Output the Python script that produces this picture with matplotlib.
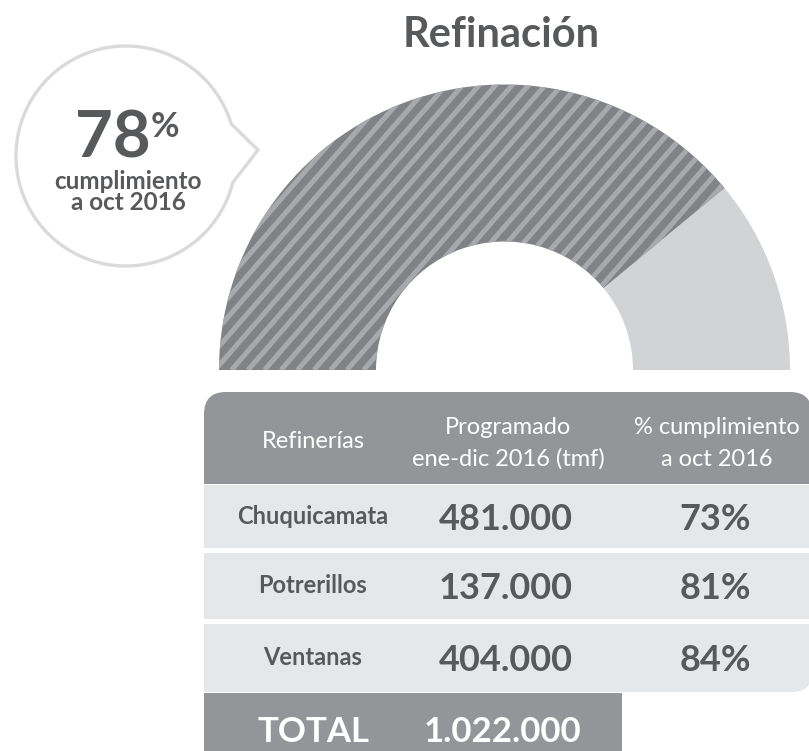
import numpy as np
import matplotlib.pyplot as plt
from matplotlib.patches import Wedge, Rectangle, FancyBboxPatch, Polygon

# data
titulo = "Refinación"
refinerias = ["Chuquicamata", "Potrerillos", "Ventanas"]
programado = [481000, 137000, 404000]      # tmf ene-dic 2016
cumplimiento = [73, 81, 84]                # % a oct 2016
cumplimiento_total = 78                    # %
encabezados = ["Refinerías", "Programado\nene-dic 2016 (tmf)", "% cumplimiento\na oct 2016"]

total = sum(programado)

def miles(v):
    return f"{v:,}".replace(",", ".")

plt.rcParams['font.family'] = ['Lato', 'DejaVu Sans']

DARK = '#58595b'
HEAD = '#939598'
ROW = '#e6e7e8'

fig = plt.figure(figsize=(8.09, 7.51), dpi=100)
ax = fig.add_axes([0, 0, 1, 1])
ax.set_xlim(0, 809)
ax.set_ylim(751, 0)
ax.axis('off')

# title
ax.text(501, 47, titulo, ha='center', va='baseline', fontsize=30, fontweight='bold', color=DARK)

# ---- gauge (half donut) ----
cx, cy = 504.5, 370
r_out, r_in = 285.5, 128.5
ang = 180 * cumplimiento_total / 100.0
# y axis is inverted -> upper half is 180..360 in data angles
ax.add_patch(Wedge((cx, cy), r_out, 180 + ang, 360, width=r_out - r_in,
                   facecolor='#d1d3d4', edgecolor='none', lw=0))
filled = Wedge((cx, cy), r_out, 180, 180 + ang, width=r_out - r_in,
               facecolor='#808285', edgecolor='none', lw=0)
ax.add_patch(filled)

# diagonal stripes clipped to the filled part
th = np.deg2rad(49)
step = 16.5
for c in np.arange(cx - r_out - 400, cx + r_out + 20, step):
    s = np.array([0, 600])
    ln, = ax.plot(c + s * np.cos(th), cy - s * np.sin(th), color='#a7a9ac', lw=3.6,
                  solid_capstyle='butt')
    ln.set_clip_path(filled)

# ---- speech bubble ----
bx, by, br = 126, 156, 110
a1 = np.deg2rad(17)     # upper attach (screen)
a2 = np.deg2rad(-14)    # lower attach
t = np.linspace(a1, a2 + 2 * np.pi, 200)
xs = bx + br * np.cos(t)
ys = by - br * np.sin(t)
pts = np.column_stack([xs, ys])
pts = np.vstack([pts, [[258, 150]]])
ax.add_patch(Polygon(pts, closed=True, facecolor='white', edgecolor='#d9dadb', lw=2.4, joinstyle='miter'))

ax.text(113, 158, str(cumplimiento_total), ha='center', va='baseline', fontsize=47,
        fontweight='bold', color=DARK)
ax.text(151, 137, "%", ha='left', va='baseline', fontsize=25, fontweight='bold', color=DARK)
ax.text(128, 189, "cumplimiento", ha='center', va='baseline', fontsize=17.5, fontweight='bold', color=DARK)
ax.text(128, 210, "a oct 2016", ha='center', va='baseline', fontsize=17.5, fontweight='bold', color=DARK)

# ---- table ----
x0, x1 = 204, 812
col_x = [313, 506, 715]

# header
ax.add_patch(FancyBboxPatch((x0, 392), x1 - x0, 92, boxstyle="round,pad=0,rounding_size=22",
                            facecolor=HEAD, edgecolor='none'))
ax.add_patch(Rectangle((x0, 440), x1 - x0, 44, facecolor=HEAD, edgecolor='none'))
ax.text(col_x[0], 448, encabezados[0], ha='center', va='baseline', fontsize=17, color='white')
for i in (1, 2):
    l1, l2 = encabezados[i].split("\n")
    ax.text(col_x[i] + 2, 434, l1, ha='center', va='baseline', fontsize=17, color='white')
    ax.text(col_x[i] + 2, 466, l2, ha='center', va='baseline', fontsize=17, color='white')

# rows
row_top = [485, 553, 624]
row_bot = [548, 619, 692]
for k, name in enumerate(refinerias):
    h = row_bot[k] - row_top[k]
    if k == len(refinerias) - 1:
        ax.add_patch(FancyBboxPatch((x0, row_top[k]), x1 - x0, h,
                                    boxstyle="round,pad=0,rounding_size=20",
                                    facecolor=ROW, edgecolor='none'))
        ax.add_patch(Rectangle((x0, row_top[k]), x1 - x0, h / 2, facecolor=ROW, edgecolor='none'))
        ax.add_patch(Rectangle((x0, row_top[k]), 400, h, facecolor=ROW, edgecolor='none'))
    else:
        ax.add_patch(Rectangle((x0, row_top[k]), x1 - x0, h, facecolor=ROW, edgecolor='none'))
    yc = (row_top[k] + row_bot[k]) / 2
    ax.text(col_x[0], yc + 7, name, ha='center', va='baseline', fontsize=17, fontweight='bold', color=DARK)
    ax.text(col_x[1], yc + 13, miles(programado[k]), ha='center', va='baseline', fontsize=26,
            fontweight='bold', color=DARK)
    ax.text(col_x[2], yc + 13, f"{cumplimiento[k]}%", ha='center', va='baseline', fontsize=26,
            fontweight='bold', color=DARK)

# total
ax.add_patch(Rectangle((x0, 693), 622 - x0, 60, facecolor=HEAD, edgecolor='none'))
ax.text(314, 742, "TOTAL", ha='center', va='baseline', fontsize=25, fontweight='bold', color='white')
ax.text(503, 742, miles(total), ha='center', va='baseline', fontsize=25, fontweight='bold', color='white')

fig.savefig("out.png", dpi=100)
